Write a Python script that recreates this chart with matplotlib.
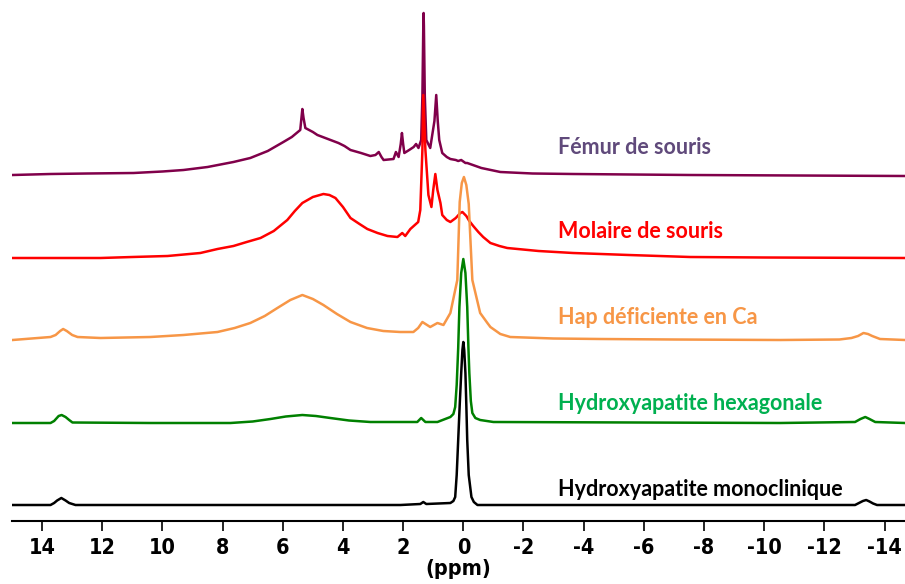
import numpy as np
import matplotlib.pyplot as plt

# spectra: chemical shift (ppm) and intensity (arb., above each trace's own baseline)
femur_ppm = [14.98, 13.72, 12.5, 10.96, 10.0, 9.30, 8.5, 7.64, 7.08, 6.5, 5.98, 5.7, 5.42, 5.38, 5.35,
             5.31, 5.25, 5.0, 4.85, 4.5, 4.15, 3.95, 3.75, 3.4, 3.09, 2.92,
             2.81, 2.72, 2.65, 2.32, 2.24, 2.15, 2.08, 2.04, 2.00, 1.96, 1.80, 1.65, 1.57, 1.49, 1.40,
             1.36, 1.33, 1.32, 1.31, 1.28, 1.23, 1.10, 0.96, 0.90, 0.85, 0.80, 0.70, 0.55, 0.43, 0.25,
             0.17, 0.07, -0.07, -0.13, -0.6, -1.23, -2.3, -3.65, -7.54, -14.68]
femur_int = [1, 2, 2.5, 3, 4.5, 6, 9, 14, 18, 25, 34, 39, 46, 58, 67,
             58, 48, 44, 41, 37, 33, 30, 26, 23, 20, 21,
             24, 19, 16, 17, 24, 19, 32, 43, 32, 23, 26, 29, 32, 28, 36,
             80, 150, 163, 150, 80, 36, 28, 55, 81, 55, 36, 23, 19, 17, 16,
             15, 16, 13, 13, 8, 4, 2.5, 2, 1, 0]

molaire_ppm = [14.98, 12.06, 11.0, 9.83, 8.74, 8.17, 7.64, 7.2, 6.74, 6.3, 5.85, 5.6, 5.35, 5.0, 4.65,
               4.45, 4.25, 4.0, 3.75, 3.45, 3.19, 2.85, 2.52, 2.19, 2.03, 1.93, 1.76, 1.50, 1.43, 1.36,
               1.33, 1.26, 1.16, 1.06, 1.00, 0.93, 0.86, 0.76, 0.70, 0.55, 0.43, 0.25, 0.1, 0.03, -0.1,
               -0.2, -0.33, -0.5, -0.66, -0.90, -1.2, -1.46, -2.5, -3.65, -5.5, -7.54, -10.0, -14.68]
molaire_int = [0, 0, 1, 2, 5, 9, 12, 16, 20, 27, 38, 47, 55, 61, 64,
               63, 60, 51, 40, 34, 29, 25, 22, 21, 25, 22, 29, 36, 48, 108,
               163, 108, 63, 51, 68, 84, 68, 55, 43, 38, 36, 40, 45, 46, 42,
               37, 32, 26, 21, 15, 12, 10, 7, 5, 3, 1, 0.5, 0]

hap_ca_ppm = [14.98, 13.72, 13.55, 13.4, 13.3, 13.18, 13.0, 12.82, 12.06, 10.40, 9.3, 8.17, 7.6, 7.08,
              6.6, 6.18, 5.75, 5.35, 5.0, 4.65, 4.2, 3.75, 3.2, 2.66, 2.1, 1.66, 1.50, 1.36, 1.10,
              0.86, 0.66, 0.43, 0.20, 0.12, 0.05, -0.02, -0.10, -0.18, -0.30, -0.56, -0.80, -0.90,
              -1.23, -1.56, -3.0, -4.55, -7.0, -10.53, -12.5, -12.9, -13.12, -13.3, -13.45, -13.59,
              -13.85, -14.68]
hap_ca_int = [0, 3, 5, 9, 11, 9, 5, 3, 2, 3, 5, 8, 12, 17,
              24, 32, 40, 45, 41, 35, 26, 18, 12, 9, 8, 8, 12, 18, 13,
              17, 15, 27, 60, 138, 157, 163, 155, 136, 60, 27, 17, 13,
              6, 3, 1.5, 1, 0.5, 0, 0.5, 2, 4, 7, 6, 4,
              1, 0]

hexa_ppm = [14.98, 13.72, 13.6, 13.45, 13.35, 13.22, 13.1, 12.99, 10.40, 7.74, 7.0, 6.41, 5.9, 5.35,
            4.9, 4.42, 3.8, 3.09, 1.53, 1.40, 1.26, 0.86, 0.43, 0.33, 0.27, 0.22, 0.17, 0.13, 0.07,
            0.0, -0.07, -0.13, -0.17, -0.20, -0.25, -0.30, -0.4, -0.56, -1.0, -10.53, -13.02, -13.2,
            -13.36, -13.5, -13.69, -14.68]
hexa_int = [0, 0, 2, 7, 8, 6, 3, 0.5, 0, 0, 1.5, 4, 6.5, 8,
            7, 5, 2.5, 1, 1, 5, 1, 1, 6, 9, 16, 38, 75, 116, 150,
            164, 150, 116, 75, 50, 22, 10, 5, 3, 1, 0, 1, 4,
            6, 4, 1, 0]

mono_ppm = [14.98, 13.72, 13.6, 13.5, 13.36, 13.22, 13.1, 12.89, 2.09, 1.43, 1.33, 1.23, 0.43, 0.33,
            0.27, 0.22, 0.17, 0.12, 0.07, 0.03, 0.0, -0.03, -0.07, -0.10, -0.13, -0.18, -0.27, -0.35,
            -0.47, -13.02, -13.15, -13.28, -13.39, -13.5, -13.62, -13.75, -14.68]
mono_int = [0, 0, 2, 4.5, 7, 4.5, 2, 0, 0, 1, 3, 1, 2, 4,
            8, 30, 65, 100, 132, 155, 163, 155, 132, 100, 65, 30, 8, 3,
            0, 0, 2, 4, 5, 3.5, 1.5, 0, 0]

labels = ['Fémur de souris', 'Molaire de souris', 'Hap déficiente en Ca',
          'Hydroxyapatite hexagonale', 'Hydroxyapatite monoclinique']
x_ticks = [14, 12, 10, 8, 6, 4, 2, 0, -2, -4, -6, -8, -10, -12, -14]

spectra = [(femur_ppm, femur_int), (molaire_ppm, molaire_int), (hap_ca_ppm, hap_ca_int),
           (hexa_ppm, hexa_int), (mono_ppm, mono_int)]
offsets = [345, 263, 181, 98, 16]
line_colors = ['#80004a', '#ff0000', '#f79646', '#008000', '#000000']
text_colors = ['#604a7b', '#ff0000', '#f79646', '#00b050', '#000000']
label_y = [374, 289, 203, 117, 31]

fig = plt.figure(figsize=(9.05, 5.84), dpi=100)
ax = fig.add_axes([12 / 905, 63 / 584, 893 / 905, 521 / 584])

for (ppm, inten), off, col in zip(spectra, offsets, line_colors):
    ax.plot(ppm, np.array(inten) + off, color=col, lw=1.8, solid_joinstyle='round')

for lab, ly, col in zip(labels, label_y, text_colors):
    ax.text(-3.16, ly, lab, color=col, fontsize=15.5, fontweight='bold',
            family=['Lato', 'DejaVu Sans'], va='center', ha='left')

ax.set_xlim(15, -14.68)
ax.set_ylim(0, 521)
for s in ['top', 'left', 'right']:
    ax.spines[s].set_visible(False)
ax.spines['bottom'].set_linewidth(1.5)
ax.set_yticks([])
ax.set_xticks(x_ticks)
ax.set_xticklabels([str(t) for t in x_ticks], fontsize=15.5, fontweight='bold',
                   family='DejaVu Sans', fontstretch='condensed')
ax.tick_params(axis='x', direction='out', length=7, width=1.2, pad=5)
ax.set_xlabel('(ppm)', fontsize=15.5, fontweight='bold', family='DejaVu Sans',
              fontstretch='condensed', labelpad=1)

fig.savefig('out.png', dpi=100)
